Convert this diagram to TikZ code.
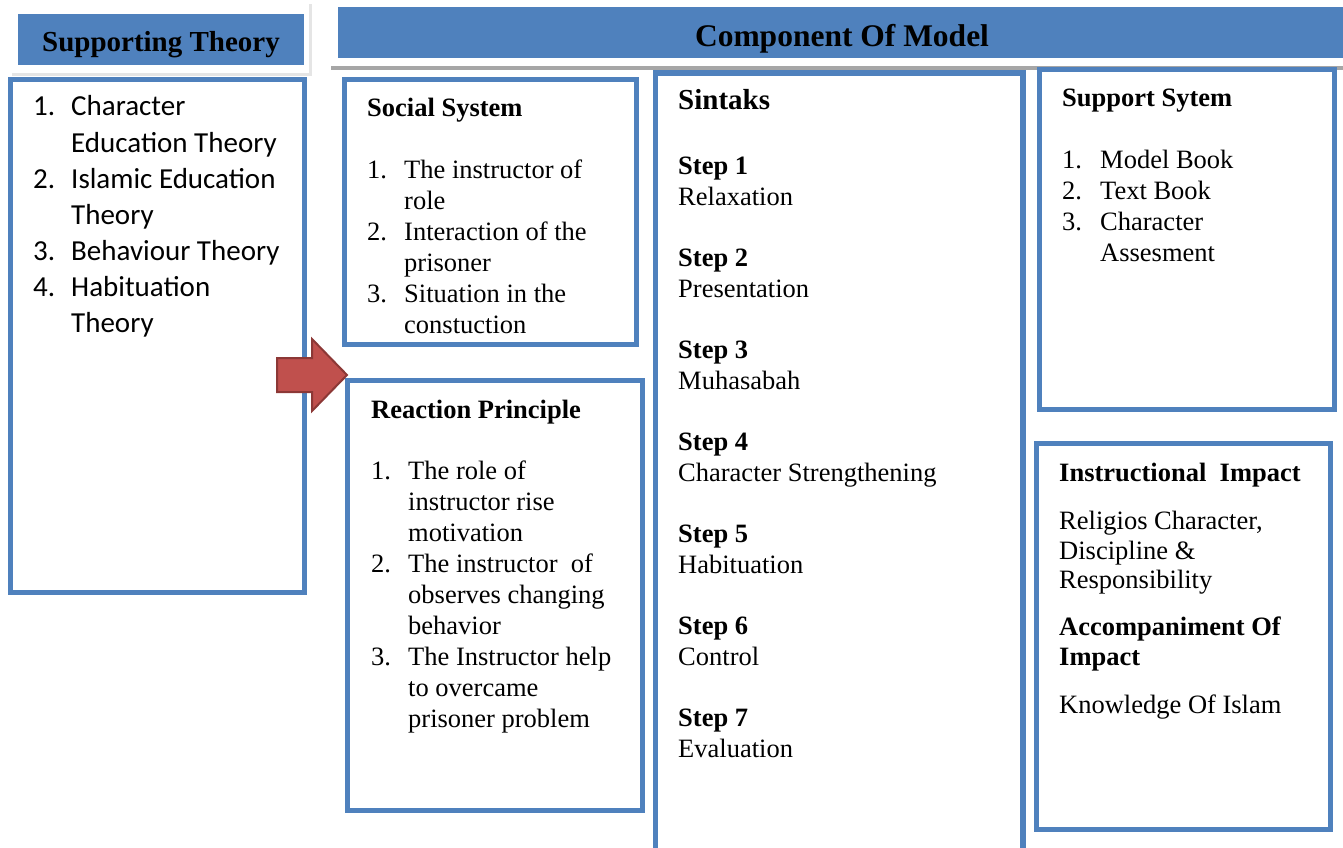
\documentclass[tikz,border=0pt]{standalone}
\usepackage{fontspec}
\setmainfont{Liberation Serif}
\newfontfamily\calib{Carlito}
\usetikzlibrary{calc}
\definecolor{boxblue}{HTML}{4F81BD}
\definecolor{arrowred}{HTML}{C0504D}
\definecolor{arrowdark}{HTML}{8C3836}
\tikzset{
  box/.style={draw=boxblue, line width=5pt},
  txt/.style={anchor=base west, inner sep=0, font=\fontsize{26.5}{31}\selectfont},
  ttl/.style={anchor=base west, inner sep=0, font=\bfseries\fontsize{26.5}{31}\selectfont},
  lst/.style={anchor=base west, inner sep=0, font=\calib\fontsize{29}{36}\selectfont},
  hd/.style={anchor=base, inner sep=0, font=\bfseries\fontsize{29}{34}\selectfont},
}

\begin{document}
\begin{tikzpicture}[x=1pt,y=-1pt]
\useasboundingbox (0,0) rectangle (1343,848);
% header bars
\fill[gray!20] (12,4) rectangle (312,76);
\fill[white] (8,0) rectangle (309,73);
\fill[boxblue] (18,14) rectangle (304,65);
\node[hd] (supT) at (161,52) {Supporting Theory};
\draw[gray!70, line width=3.5pt] (331,68)--(1343,68);
\fill[boxblue] (338,7) rectangle (1343,58);
\node[hd, font=\bfseries\fontsize{31.5}{36}\selectfont] (comT) at (842,47) {Component Of Model};

% boxes
\draw[box] (10,79.5) rectangle (304.5,592.5);
\draw[box] (344.5,79.5) rectangle (636.5,344.5);
\draw[box] (347.5,380.5) rectangle (642.5,810.5);
\draw[box, line width=5.5pt] (655.5,73) rectangle (1023,870);
\draw[box] (1039.5,69.5) rectangle (1334.5,409.5);
\draw[box] (1036,443.5) rectangle (1330.5,829.5);

% arrow
\filldraw[fill=arrowred, draw=arrowdark, line width=2pt] (277,358) --++(35,0) --++(0,-19)
  -- (347,375) -- (312,411) --++(0,-19) --++(-35,0) -- cycle;

% supporting theory
\foreach \y/\n/\t in {116/1./Character, 152//Education Theory, 188/2./Islamic Education,
  224//Theory, 260/3./Behaviour Theory, 296/4./Habituation, 332//Theory} {
 \node[lst] (supN\y) at (33,\y) {\n};
 \node[lst] (sup\y) at (71,\y) {\t};
}

% social system
\node[ttl] (socT) at (367,117) {Social System};
\foreach \y/\n/\t in {178/1./The instructor of, 209//role, 240/2./Interaction of the,
  271//prisoner, 302/3./Situation in the, 333//constuction} {
 \node[txt] (socN\y) at (367,\y) {\n};
 \node[txt] (soc\y) at (404,\y) {\t};
}

% reaction principle
\node[ttl] (reaT) at (371,418) {Reaction Principle};
\foreach \y/\n/\t in {479/1./The role of, 510//instructor rise, 541//motivation,
  572/2./The instructor~ of, 603//observes changing, 634//behavior,
  665/3./The Instructor help, 696//to overcame, 727//prisoner problem} {
 \node[txt] (reaN\y) at (371,\y) {\n};
 \node[txt] (rea\y) at (408,\y) {\t};
}

% sintaks
\node[ttl, font=\bfseries\fontsize{29}{34}\selectfont] (sinT) at (678,110) {Sintaks};
\foreach \k/\t in {1/Relaxation, 2/Presentation, 3/Muhasabah, 4/Character Strengthening,
  5/Habituation, 6/Control, 7/Evaluation} {
 \node[ttl] (step\k) at (678,{174+92*(\k-1)}) {Step \k};
 \node[txt] (desc\k) at (678,{205+92*(\k-1)}) {\t};
}

% support system
\node[ttl] (sysT) at (1062,107) {Support Sytem};
\foreach \y/\n/\t in {168/1./Model Book, 199/2./Text Book, 230/3./Character, 261//Assesment} {
 \node[txt] (sysN\y) at (1062,\y) {\n};
 \node[txt] (sys\y) at (1100,\y) {\t};
}

% impact
\node[ttl] (impT) at (1059,481) {Instructional~ Impact};
\node[txt] (imp1) at (1059,529) {Religios Character,};
\node[txt] (imp2) at (1059,559) {Discipline \&};
\node[txt] (imp3) at (1059,588) {Responsibility};
\node[ttl] (accT) at (1059,635) {Accompaniment Of};
\node[ttl] (accT2) at (1059,665) {Impact};
\node[txt] (acc1) at (1059,713) {Knowledge Of Islam};
\end{tikzpicture}
\end{document}
